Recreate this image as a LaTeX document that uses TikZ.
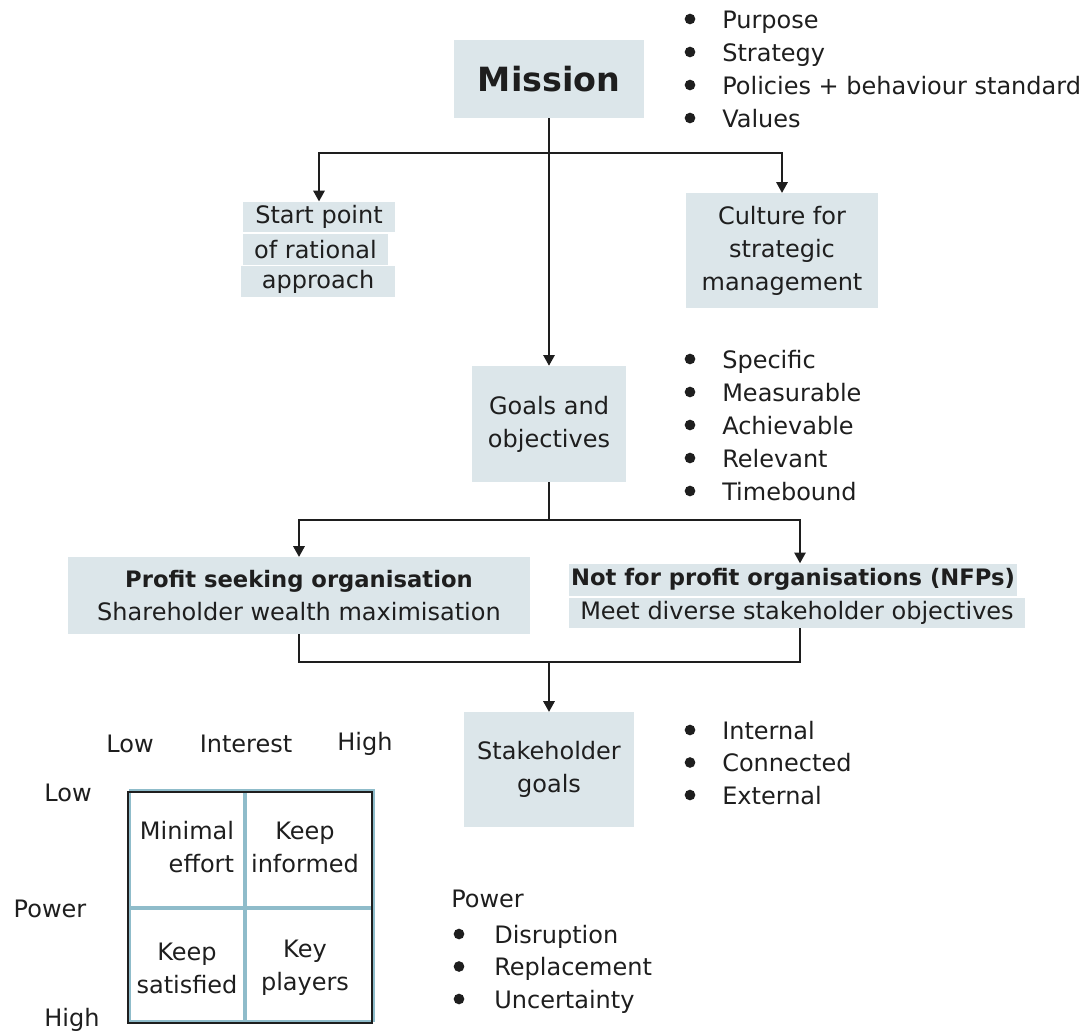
\documentclass[tikz,border=0pt]{standalone}
\usepackage{fontspec}
\setmainfont{DejaVu Sans}
\usetikzlibrary{arrows.meta}
\definecolor{boxfill}{RGB}{220,230,234}
\definecolor{gridblue}{RGB}{143,188,202}
\definecolor{ink}{RGB}{30,30,30}
\begin{document}
\begin{tikzpicture}[x=0.75pt,y=-0.75pt,
  every node/.style={text=ink},
  txt/.style={font=\fontsize{18}{24.75}\selectfont, inner sep=0pt},
  item/.style={txt, anchor=base west},
  dot/.style={circle, fill=ink, minimum size=8pt, inner sep=0pt},
  panel/.style={txt, fill=boxfill, align=center},
  lineband/.style={txt, fill=boxfill, inner sep=0pt, minimum height=23pt},
  link/.style={line width=1.3pt, draw=ink},
  arrow/.style={link, -{Triangle[width=8.5pt,length=8pt]}},
  grid line/.style={gridblue, line width=2.8pt}
]
\useasboundingbox (0,0) rectangle (1087,1035);

% mission and its bullet list
\node[panel, minimum width=142.5pt, minimum height=58.5pt,
      font=\fontsize{25}{30}\bfseries] (mission) at (549,79) {Mission};
\foreach \t [count=\i] in {Purpose, Strategy, Policies + behaviour standard, Values}{
  \node[dot] (md\i) at (690,{19+33*(\i-1)}) {};
  \node[item] (mt\i) at (722,{28+33*(\i-1)}) {\t};
}

% first split
\coordinate (split1) at (549,153);
\node[lineband, minimum width=114pt] (s1) at (319,217) {Start point};
\node[lineband, minimum width=109pt] (s2) at (315.5,249.5) {of rational};
\node[lineband, minimum width=115.5pt] (s3) at (318,281.5) {approach};
\node[panel, minimum width=144pt, minimum height=86pt] (culture) at (782,250.5)
     {Culture for\\strategic\\management};

% goals
\node[panel, minimum width=116pt, minimum height=87pt] (goals) at (549,424)
     {Goals and\\objectives};
\foreach \t [count=\i] in {Specific, Measurable, Achievable, Relevant, Timebound}{
  \node[dot] (gd\i) at (690,{359+33*(\i-1)}) {};
  \node[item] (gt\i) at (722,{368+33*(\i-1)}) {\t};
}
\coordinate (split2) at (549,520);

% organisation types
\node[panel, minimum width=346.5pt, minimum height=57.5pt] (profit) at (299,595.5)
     {{\fontsize{17}{24.75}\selectfont\bfseries Profit seeking organisation}\\Shareholder wealth maximisation};
\node[lineband, minimum width=336pt, minimum height=24pt] (nfp1) at (793,579.5)
     {\fontsize{17}{24.75}\selectfont\bfseries Not for profit organisations (NFPs)};
\node[lineband, minimum width=342pt, minimum height=22.5pt] (nfp2) at (797,612.5)
     {Meet diverse stakeholder objectives};
\coordinate (merge) at (549,662);

% stakeholders
\node[panel, minimum width=127pt, minimum height=86pt] (stake) at (549,769.5)
     {Stakeholder\\goals};
\foreach \t [count=\i] in {Internal, Connected, External}{
  \node[dot] (sd\i) at (690,{730+32.5*(\i-1)}) {};
  \node[item] (st\i) at (722,{739+32.5*(\i-1)}) {\t};
}

% connectors
\draw[arrow] (mission.south) -- (goals.north);
\draw[arrow] (split1) -| (s1.north);
\draw[arrow] (split1) -| (culture.north);
\draw[link] (goals.south) -- (split2);
\draw[arrow] (split2) -| (profit.north);
\draw[arrow] (split2) -| ([xshift=5.25pt]nfp1.north);
\draw[link] (profit.south) |- (merge) -| ([xshift=2.25pt]nfp2.south);
\draw[arrow] (merge) -- (stake.north);

% power / interest grid
\node[txt] (lowI) at (130,744) {Low};
\node[txt] (interest) at (246,744) {Interest};
\node[txt] (highI) at (365,744) {High};
\node[txt] (lowP) at (68,793) {Low};
\node[txt] (power) at (50,909) {Power};
\node[txt] (highP) at (72,1020) {High};

\draw[gridblue, line width=1.6pt] (130,790) rectangle (374,1021);
\draw[grid line] (245,792) -- (245,1022);
\draw[grid line] (128,908) -- (372,908);
\draw[ink, line width=1.5pt] (128,792) rectangle (372,1023);

\node[txt, align=right] (c11) at (187,847) {Minimal\\effort};
\node[txt, align=center] (c12) at (305,847) {Keep\\informed};
\node[txt, align=center] (c21) at (187,968) {Keep\\satisfied};
\node[txt, align=center] (c22) at (305,968) {Key\\players};

% sources of power
\node[txt, anchor=base west] (ptitle) at (451,907) {Power};
\foreach \t [count=\i] in {Disruption, Replacement, Uncertainty}{
  \node[dot] (pd\i) at (459,{934+32.5*(\i-1)}) {};
  \node[item] (pt\i) at (494,{943+32.5*(\i-1)}) {\t};
}
\end{tikzpicture}
\end{document}
